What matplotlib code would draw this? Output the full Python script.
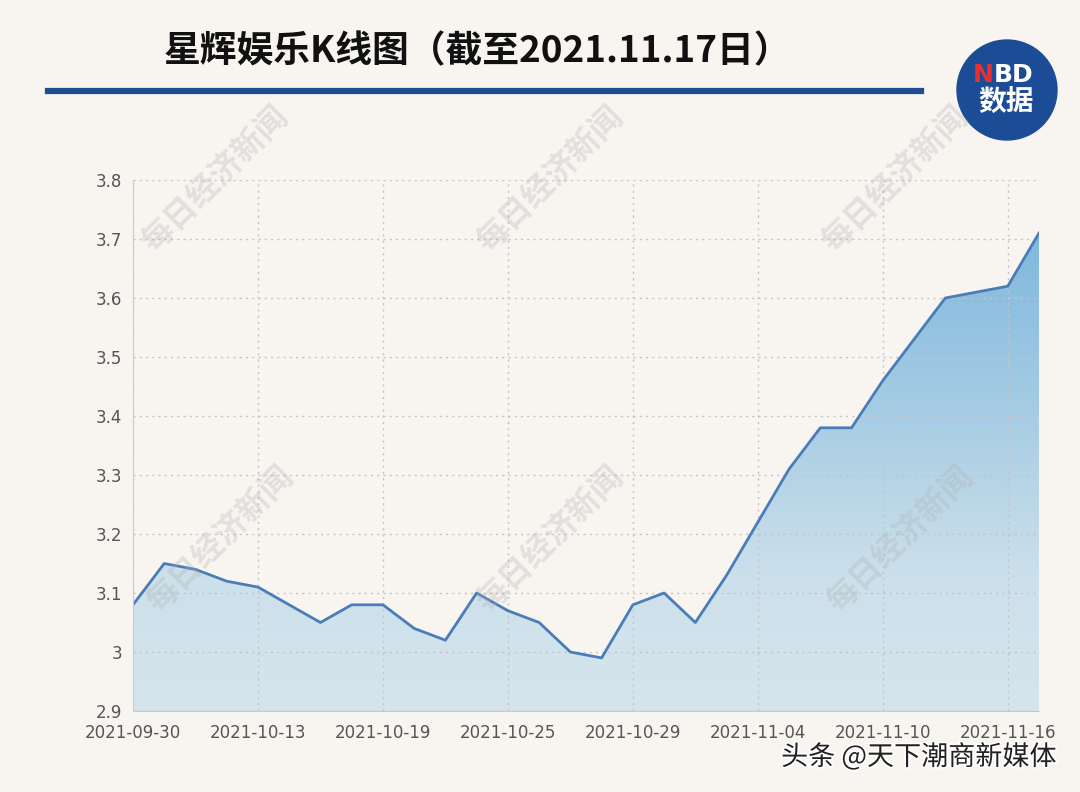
import matplotlib
matplotlib.use("Agg")
import matplotlib.pyplot as plt
import numpy as np
from matplotlib.colors import LinearSegmentedColormap
from matplotlib.patches import Circle
import matplotlib.patheffects as pe

plt.rcParams['font.family'] = ['Noto Sans CJK SC', 'DejaVu Sans']

dates = ["2021-09-30", "2021-10-08", "2021-10-11", "2021-10-12", "2021-10-13",
         "2021-10-14", "2021-10-15", "2021-10-18", "2021-10-19", "2021-10-20",
         "2021-10-21", "2021-10-22", "2021-10-25", "2021-10-26", "2021-10-27",
         "2021-10-28", "2021-10-29", "2021-11-01", "2021-11-02", "2021-11-03",
         "2021-11-04", "2021-11-05", "2021-11-08", "2021-11-09", "2021-11-10",
         "2021-11-11", "2021-11-12", "2021-11-15", "2021-11-16", "2021-11-17"]
prices = [3.08, 3.15, 3.14, 3.12, 3.11, 3.08, 3.05, 3.08, 3.08, 3.04,
          3.02, 3.10, 3.07, 3.05, 3.00, 2.99, 3.08, 3.10, 3.05, 3.13,
          3.22, 3.31, 3.38, 3.38, 3.46, 3.53, 3.60, 3.61, 3.62, 3.71]
x_tick_labels = ["2021-09-30", "2021-10-13", "2021-10-19", "2021-10-25",
                 "2021-10-29", "2021-11-04", "2021-11-10", "2021-11-16"]
y_ticks = [2.9, 3.0, 3.1, 3.2, 3.3, 3.4, 3.5, 3.6, 3.7, 3.8]
y_tick_labels = ["2.9", "3", "3.1", "3.2", "3.3", "3.4", "3.5", "3.6", "3.7", "3.8"]
title = "星辉娱乐K线图（截至2021.11.17日）"

bg = "#f8f5f1"
fig = plt.figure(figsize=(10.8, 7.92), dpi=100, facecolor=bg)
ax = fig.add_axes([133/1080, 1-711/792, (1039-133)/1080, (711-180)/792])
ax.set_facecolor(bg)

x = np.arange(len(prices))
ax.set_xlim(0, len(prices) - 1)
ax.set_ylim(2.9, 3.8)

# gradient fill under the line
cmap = LinearSegmentedColormap.from_list(
    "g", [(0.0, "#d6e5ed"), (0.25, "#cce0eb"), (0.55, "#a8cde4"), (1.0, "#74b2dc")])
grad = np.linspace(0, 1, 256).reshape(-1, 1)
im = ax.imshow(grad, extent=[0, len(prices) - 1, 2.9, 3.8], origin='lower',
               aspect='auto', cmap=cmap, zorder=1, interpolation='bilinear')
poly = ax.fill_between(x, prices, 2.9, color='none', zorder=1)
clip_path = poly.get_paths()[0]
im.set_clip_path(clip_path, transform=ax.transData)

ax.plot(x, prices, color="#4a7db8", lw=2.0, zorder=3, solid_joinstyle='round')

tick_idx = [dates.index(d) for d in x_tick_labels]
ax.set_xticks(tick_idx)
ax.set_xticklabels(x_tick_labels, fontsize=12, color="#555555",
                   family=['DejaVu Sans'])
ax.set_yticks(y_ticks)
ax.set_yticklabels(y_tick_labels, fontsize=12, color="#555555",
                   family=['DejaVu Sans'])
ax.tick_params(length=0, pad=8)
ax.tick_params(axis='x', pad=9)

ax.set_axisbelow(False)
ax.grid(True, color="#c4c4c4", linestyle=(0, (1.5, 3)), linewidth=1.0, zorder=2)
for s in ['top', 'right']:
    ax.spines[s].set_visible(False)
ax.spines['left'].set_color("#cccccc")
ax.spines['bottom'].set_color("#c8c8c8")
ax.spines['left'].set_zorder(4)

# title and rule
fig.text(477/1080, 1-52/792, title, fontsize=26.5, fontweight='bold',
         ha='center', va='center', color="#111111")
fig.add_artist(plt.Line2D([48/1080, 921/1080], [1-91/792, 1-91/792],
                          color="#1e4d92", lw=4.5))

# logo
logo_ax = fig.add_axes([0, 0, 1, 1], facecolor='none')
logo_ax.set_xlim(0, 1080)
logo_ax.set_ylim(792, 0)
logo_ax.axis('off')
logo_ax.set_aspect('equal')
logo_ax.add_patch(Circle((1007, 90), 50, color="#1d4c97", zorder=5))
logo_ax.text(994, 75, "N", fontsize=18, fontweight='bold', color="#e8302e",
             ha='right', va='center', zorder=6, family=['DejaVu Sans'])
logo_ax.text(994, 75, "BD", fontsize=18, fontweight='bold', color="white",
             ha='left', va='center', zorder=6, family=['DejaVu Sans'])
logo_ax.text(1006, 103, "数据", fontsize=20, fontweight='bold', color="white",
             ha='center', va='center', zorder=6)

# watermarks
for (wx, wy) in [(215, 180), (550, 180), (895, 180), (220, 540), (550, 540), (900, 540)]:
    logo_ax.text(wx, wy, "每日经济新闻", fontsize=23, fontweight='bold',
                 color="#b0b0b0", alpha=0.3, rotation=45,
                 ha='center', va='center', zorder=7)

# source text
logo_ax.text(1057, 757, "头条 @天下潮商新媒体", fontsize=19.5, color="#222222",
             ha='right', va='center', zorder=8,
             path_effects=[pe.withStroke(linewidth=2.5, foreground='white')])

fig.savefig("out.png", dpi=100, facecolor=bg)
